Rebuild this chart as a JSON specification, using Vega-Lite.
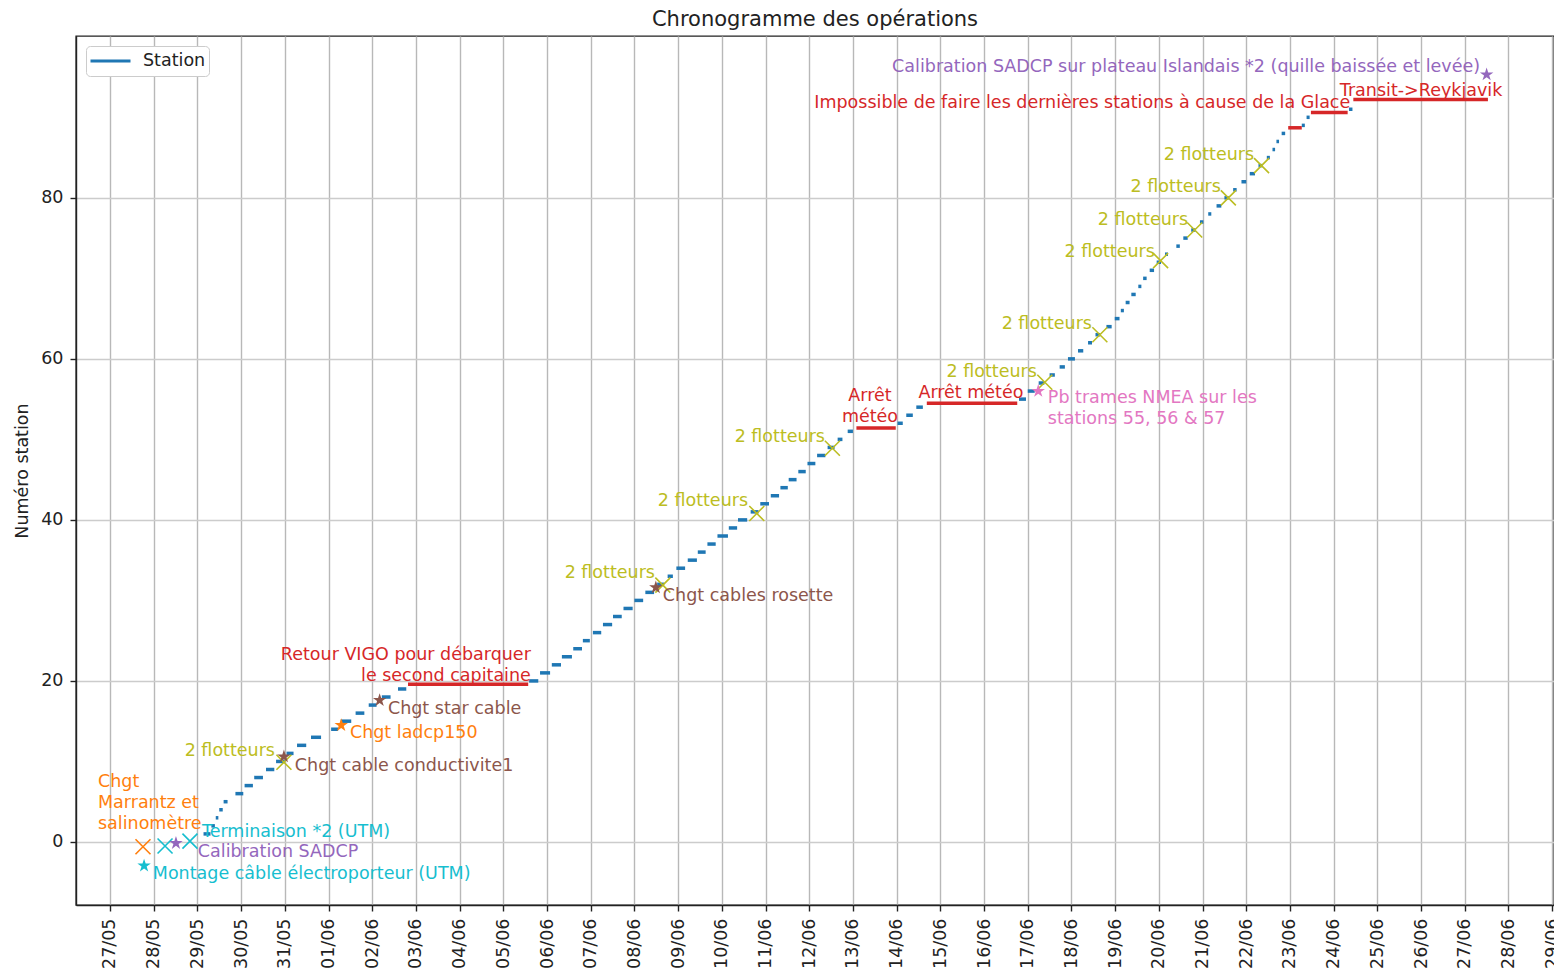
{
  "$schema": "https://vega.github.io/schema/vega-lite/v6.json",
  "width": 1478,
  "height": 869,
  "autosize": "none",
  "padding": {"left": 76, "top": 36, "right": 0, "bottom": 70},
  "config": {
    "font": "DejaVu Sans",
    "view": {"stroke": "#222222", "strokeWidth": 1.4},
    "legend": {
      "title": null,
      "orient": "top-left",
      "offset": 10,
      "padding": 3,
      "clipHeight": 24,
      "fillColor": "white",
      "strokeColor": "#cccccc",
      "cornerRadius": 4,
      "symbolType": "stroke",
      "symbolSize": 1600,
      "symbolStrokeWidth": 3,
      "labelFontSize": 17.5,
      "labelOffset": 11,
      "labelColor": "#222222"
    }
  },
  "title": {"text": "Chronogramme des opérations", "fontSize": 21, "fontWeight": "normal", "color": "#222222", "offset": 6},
  "datasets": {
    "stations": [
      {"date": "2018-05-29T03:22", "end": "2018-05-29T07:12", "station": 1},
      {"date": "2018-05-29T07:41", "end": "2018-05-29T09:36", "station": 2},
      {"date": "2018-05-29T10:05", "end": "2018-05-29T11:31", "station": 3},
      {"date": "2018-05-29T12:00", "end": "2018-05-29T13:55", "station": 4},
      {"date": "2018-05-29T14:24", "end": "2018-05-29T16:34", "station": 5},
      {"date": "2018-05-29T20:53", "end": "2018-05-30T01:12", "station": 6},
      {"date": "2018-05-30T01:55", "end": "2018-05-30T06:29", "station": 7},
      {"date": "2018-05-30T07:12", "end": "2018-05-30T12:00", "station": 8},
      {"date": "2018-05-30T13:41", "end": "2018-05-30T18:14", "station": 9},
      {"date": "2018-05-30T19:12", "end": "2018-05-31T00:00", "station": 10},
      {"date": "2018-05-31T00:58", "end": "2018-05-31T04:48", "station": 11},
      {"date": "2018-05-31T06:43", "end": "2018-05-31T11:46", "station": 12},
      {"date": "2018-05-31T14:24", "end": "2018-05-31T19:55", "station": 13},
      {"date": "2018-06-01T01:26", "end": "2018-06-01T05:17", "station": 14},
      {"date": "2018-06-01T06:43", "end": "2018-06-01T12:29", "station": 15},
      {"date": "2018-06-01T14:53", "end": "2018-06-01T19:41", "station": 16},
      {"date": "2018-06-01T22:05", "end": "2018-06-02T02:24", "station": 17},
      {"date": "2018-06-02T05:17", "end": "2018-06-02T10:05", "station": 18},
      {"date": "2018-06-02T14:10", "end": "2018-06-02T18:43", "station": 19},
      {"date": "2018-06-05T14:10", "end": "2018-06-05T19:12", "station": 20},
      {"date": "2018-06-05T20:10", "end": "2018-06-06T01:41", "station": 21},
      {"date": "2018-06-06T02:38", "end": "2018-06-06T07:41", "station": 22},
      {"date": "2018-06-06T08:10", "end": "2018-06-06T13:41", "station": 23},
      {"date": "2018-06-06T14:24", "end": "2018-06-06T19:12", "station": 24},
      {"date": "2018-06-06T19:41", "end": "2018-06-06T23:31", "station": 25},
      {"date": "2018-06-07T01:12", "end": "2018-06-07T05:46", "station": 26},
      {"date": "2018-06-07T06:43", "end": "2018-06-07T11:46", "station": 27},
      {"date": "2018-06-07T12:14", "end": "2018-06-07T17:02", "station": 28},
      {"date": "2018-06-07T18:00", "end": "2018-06-07T23:02", "station": 29},
      {"date": "2018-06-08T00:00", "end": "2018-06-08T04:48", "station": 30},
      {"date": "2018-06-08T06:00", "end": "2018-06-08T10:48", "station": 31},
      {"date": "2018-06-08T12:29", "end": "2018-06-08T16:19", "station": 32},
      {"date": "2018-06-08T18:14", "end": "2018-06-08T21:07", "station": 33},
      {"date": "2018-06-08T23:02", "end": "2018-06-09T03:50", "station": 34},
      {"date": "2018-06-09T05:17", "end": "2018-06-09T10:19", "station": 35},
      {"date": "2018-06-09T10:48", "end": "2018-06-09T15:07", "station": 36},
      {"date": "2018-06-09T16:05", "end": "2018-06-09T20:38", "station": 37},
      {"date": "2018-06-09T21:36", "end": "2018-06-10T03:22", "station": 38},
      {"date": "2018-06-10T03:50", "end": "2018-06-10T08:24", "station": 39},
      {"date": "2018-06-10T08:53", "end": "2018-06-10T13:55", "station": 40},
      {"date": "2018-06-10T15:50", "end": "2018-06-10T20:10", "station": 41},
      {"date": "2018-06-10T21:07", "end": "2018-06-11T01:55", "station": 42},
      {"date": "2018-06-11T02:53", "end": "2018-06-11T07:26", "station": 43},
      {"date": "2018-06-11T08:10", "end": "2018-06-11T12:14", "station": 44},
      {"date": "2018-06-11T12:43", "end": "2018-06-11T17:02", "station": 45},
      {"date": "2018-06-11T18:00", "end": "2018-06-11T22:05", "station": 46},
      {"date": "2018-06-11T23:02", "end": "2018-06-12T03:22", "station": 47},
      {"date": "2018-06-12T04:19", "end": "2018-06-12T08:53", "station": 48},
      {"date": "2018-06-12T10:05", "end": "2018-06-12T13:55", "station": 49},
      {"date": "2018-06-12T15:36", "end": "2018-06-12T18:14", "station": 50},
      {"date": "2018-06-12T21:07", "end": "2018-06-13T00:00", "station": 51},
      {"date": "2018-06-14T00:29", "end": "2018-06-14T03:22", "station": 52},
      {"date": "2018-06-14T05:17", "end": "2018-06-14T08:53", "station": 53},
      {"date": "2018-06-14T10:48", "end": "2018-06-14T14:24", "station": 54},
      {"date": "2018-06-16T19:12", "end": "2018-06-16T23:02", "station": 55},
      {"date": "2018-06-17T00:00", "end": "2018-06-17T03:50", "station": 56},
      {"date": "2018-06-17T06:00", "end": "2018-06-17T09:07", "station": 57},
      {"date": "2018-06-17T12:00", "end": "2018-06-17T14:53", "station": 58},
      {"date": "2018-06-17T17:31", "end": "2018-06-17T20:24", "station": 59},
      {"date": "2018-06-17T22:05", "end": "2018-06-18T01:55", "station": 60},
      {"date": "2018-06-18T03:36", "end": "2018-06-18T06:29", "station": 61},
      {"date": "2018-06-18T09:07", "end": "2018-06-18T11:17", "station": 62},
      {"date": "2018-06-18T13:12", "end": "2018-06-18T15:50", "station": 63},
      {"date": "2018-06-18T19:12", "end": "2018-06-18T22:05", "station": 64},
      {"date": "2018-06-18T23:46", "end": "2018-06-19T02:24", "station": 65},
      {"date": "2018-06-19T03:07", "end": "2018-06-19T04:48", "station": 66},
      {"date": "2018-06-19T05:46", "end": "2018-06-19T07:55", "station": 67},
      {"date": "2018-06-19T08:53", "end": "2018-06-19T11:17", "station": 68},
      {"date": "2018-06-19T12:43", "end": "2018-06-19T14:24", "station": 69},
      {"date": "2018-06-19T15:22", "end": "2018-06-19T17:17", "station": 70},
      {"date": "2018-06-19T18:58", "end": "2018-06-19T21:22", "station": 71},
      {"date": "2018-06-19T22:48", "end": "2018-06-20T01:12", "station": 72},
      {"date": "2018-06-20T03:22", "end": "2018-06-20T05:02", "station": 73},
      {"date": "2018-06-20T09:36", "end": "2018-06-20T11:31", "station": 74},
      {"date": "2018-06-20T13:26", "end": "2018-06-20T15:50", "station": 75},
      {"date": "2018-06-20T17:46", "end": "2018-06-20T20:10", "station": 76},
      {"date": "2018-06-20T22:34", "end": "2018-06-21T00:29", "station": 77},
      {"date": "2018-06-21T03:07", "end": "2018-06-21T04:48", "station": 78},
      {"date": "2018-06-21T07:41", "end": "2018-06-21T10:19", "station": 79},
      {"date": "2018-06-21T12:00", "end": "2018-06-21T14:24", "station": 80},
      {"date": "2018-06-21T16:48", "end": "2018-06-21T18:43", "station": 81},
      {"date": "2018-06-21T21:22", "end": "2018-06-22T00:00", "station": 82},
      {"date": "2018-06-22T01:55", "end": "2018-06-22T04:48", "station": 83},
      {"date": "2018-06-22T06:43", "end": "2018-06-22T08:53", "station": 84},
      {"date": "2018-06-22T11:17", "end": "2018-06-22T12:58", "station": 85},
      {"date": "2018-06-22T14:24", "end": "2018-06-22T15:50", "station": 86},
      {"date": "2018-06-22T16:34", "end": "2018-06-22T18:00", "station": 87},
      {"date": "2018-06-22T19:26", "end": "2018-06-22T21:22", "station": 88},
      {"date": "2018-06-23T06:29", "end": "2018-06-23T08:10", "station": 89},
      {"date": "2018-06-23T09:07", "end": "2018-06-23T10:48", "station": 90},
      {"date": "2018-06-24T08:24", "end": "2018-06-24T10:19", "station": 91}
    ],
    "interruptions": [
      {"date": "2018-06-02T19:40", "end": "2018-06-05T13:40", "station": 19.6, "event": "Retour VIGO"},
      {"date": "2018-06-13T01:55", "end": "2018-06-13T23:31", "station": 51.4, "event": "Arrêt météo 1"},
      {"date": "2018-06-14T16:34", "end": "2018-06-16T18:14", "station": 54.5, "event": "Arrêt météo 2"},
      {"date": "2018-06-22T23:02", "end": "2018-06-23T06:29", "station": 88.7, "event": "Glace 1"},
      {"date": "2018-06-23T11:31", "end": "2018-06-24T07:41", "station": 90.6, "event": "Glace 2"},
      {"date": "2018-06-24T10:48", "end": "2018-06-27T12:43", "station": 92.2, "event": "Transit"}
    ],
    "points_x": [
      {"date": "2018-05-27T18:07", "station": -0.6, "type": "instrument"},
      {"date": "2018-05-28T06:14", "station": -0.5, "type": "UTM"},
      {"date": "2018-05-28T19:55", "station": 0.1, "type": "UTM"},
      {"date": "2018-05-30T23:31", "station": 9.9, "type": "flotteurs"},
      {"date": "2018-06-08T15:36", "station": 31.9, "type": "flotteurs"},
      {"date": "2018-06-10T19:12", "station": 40.8, "type": "flotteurs"},
      {"date": "2018-06-12T12:43", "station": 48.9, "type": "flotteurs"},
      {"date": "2018-06-17T09:22", "station": 57.1, "type": "flotteurs"},
      {"date": "2018-06-18T15:36", "station": 63, "type": "flotteurs"},
      {"date": "2018-06-20T00:58", "station": 72.2, "type": "flotteurs"},
      {"date": "2018-06-20T19:41", "station": 76, "type": "flotteurs"},
      {"date": "2018-06-21T14:10", "station": 80, "type": "flotteurs"},
      {"date": "2018-06-22T08:24", "station": 84, "type": "flotteurs"}
    ],
    "points_star": [
      {"date": "2018-05-27T18:43", "station": -2.95, "type": "UTM"},
      {"date": "2018-05-28T12:14", "station": -0.15, "type": "SADCP"},
      {"date": "2018-05-30T23:31", "station": 10.6, "type": "câble"},
      {"date": "2018-06-01T06:58", "station": 14.5, "type": "instrument"},
      {"date": "2018-06-02T04:05", "station": 17.6, "type": "câble"},
      {"date": "2018-06-08T11:46", "station": 31.6, "type": "câble"},
      {"date": "2018-06-17T05:46", "station": 56, "type": "NMEA"},
      {"date": "2018-06-27T12:00", "station": 95.3, "type": "SADCP"}
    ],
    "labels_left": [
      {"date": "2018-05-26T17:24", "station": 7.45, "type": "instrument", "label": "Chgt\nMarrantz et\nsalinomètre"},
      {"date": "2018-05-29T02:31", "station": 1.24, "type": "UTM", "label": "Terminaison *2 (UTM)"},
      {"date": "2018-05-29T00:14", "station": -1.24, "type": "SADCP", "label": "Calibration SADCP"},
      {"date": "2018-05-27T23:31", "station": -3.98, "type": "UTM", "label": "Montage câble électroporteur (UTM)"},
      {"date": "2018-05-31T05:31", "station": 9.44, "type": "câble", "label": "Chgt cable conductivite1"},
      {"date": "2018-06-01T11:46", "station": 13.54, "type": "instrument", "label": "Chgt ladcp150"},
      {"date": "2018-06-02T08:38", "station": 16.52, "type": "câble", "label": "Chgt star cable"},
      {"date": "2018-06-08T15:36", "station": 30.56, "type": "câble", "label": "Chgt cables rosette"},
      {"date": "2018-06-17T11:02", "station": 55.16, "type": "NMEA", "label": "Pb trames NMEA sur les\nstations 55, 56 & 57"}
    ],
    "labels_right": [
      {"date": "2018-06-05T15:07", "station": 23.23, "type": "arrêt", "label": "Retour VIGO pour débarquer\nle second capitaine"},
      {"date": "2018-05-30T18:37", "station": 11.3, "type": "flotteurs", "label": "2 flotteurs"},
      {"date": "2018-06-08T11:17", "station": 33.42, "type": "flotteurs", "label": "2 flotteurs"},
      {"date": "2018-06-10T14:24", "station": 42.36, "type": "flotteurs", "label": "2 flotteurs"},
      {"date": "2018-06-12T08:38", "station": 50.31, "type": "flotteurs", "label": "2 flotteurs"},
      {"date": "2018-06-17T05:02", "station": 58.39, "type": "flotteurs", "label": "2 flotteurs"},
      {"date": "2018-06-18T11:17", "station": 64.35, "type": "flotteurs", "label": "2 flotteurs"},
      {"date": "2018-06-19T21:50", "station": 73.29, "type": "flotteurs", "label": "2 flotteurs"},
      {"date": "2018-06-20T16:05", "station": 77.27, "type": "flotteurs", "label": "2 flotteurs"},
      {"date": "2018-06-21T10:05", "station": 81.37, "type": "flotteurs", "label": "2 flotteurs"},
      {"date": "2018-06-22T04:19", "station": 85.34, "type": "flotteurs", "label": "2 flotteurs"},
      {"date": "2018-06-24T09:07", "station": 91.8, "type": "arrêt", "label": "Impossible de faire les dernières stations à cause de la Glace"},
      {"date": "2018-06-27T08:24", "station": 96.27, "type": "SADCP", "label": "Calibration SADCP sur plateau Islandais *2 (quille baissée et levée)"}
    ],
    "labels_center": [
      {"date": "2018-06-13T09:22", "station": 55.4, "type": "arrêt", "label": "Arrêt\nmétéo"},
      {"date": "2018-06-15T16:48", "station": 55.78, "type": "arrêt", "label": "Arrêt météo"},
      {"date": "2018-06-26T00:00", "station": 93.29, "type": "arrêt", "label": "Transit->Reykjavik"}
    ]
  },
  "encoding": {
    "x": {
      "field": "date",
      "type": "temporal",
      "scale": {
        "domain": [
          {"year": 2018, "month": 5, "date": 26, "hours": 5, "minutes": 20},
          {"year": 2018, "month": 6, "date": 29, "hours": 1, "minutes": 0}
        ],
        "nice": false
      },
      "axis": {
        "title": null,
        "format": "%d/%m",
        "tickCount": {"interval": "day", "step": 1},
        "labelAngle": -90,
        "labelFontSize": 17.5,
        "labelColor": "#222222",
        "labelPadding": 7,
        "labelOverlap": false,
        "labelFlush": false,
        "tickSize": 6,
        "tickColor": "#222222",
        "tickWidth": 1.4,
        "domainColor": "#222222",
        "domainWidth": 1.4,
        "grid": true,
        "gridColor": "#b8b8b8",
        "gridWidth": 1.4
      }
    },
    "y": {
      "field": "station",
      "type": "quantitative",
      "scale": {"domain": [-7.83, 100.1], "nice": false, "zero": false},
      "axis": {
        "title": "Numéro station",
        "titleFontSize": 17.5,
        "titleFontWeight": "normal",
        "titleColor": "#222222",
        "titlePadding": 9,
        "values": [0, 20, 40, 60, 80],
        "labelFontSize": 17.5,
        "labelColor": "#222222",
        "labelPadding": 7,
        "tickSize": 6,
        "tickColor": "#222222",
        "tickWidth": 1.4,
        "domainColor": "#222222",
        "domainWidth": 1.4,
        "grid": true,
        "gridColor": "#cccccc",
        "gridWidth": 1.4
      }
    }
  },
  "layer": [
    {
      "data": {"name": "stations"},
      "mark": {"type": "rule", "strokeWidth": 3.5},
      "encoding": {
        "x2": {"field": "end"},
        "color": {"datum": "Station", "type": "nominal", "scale": {"domain": ["Station"], "range": ["#1f77b4"]}}
      }
    },
    {
      "data": {"name": "interruptions"},
      "mark": {"type": "rule", "strokeWidth": 3.5, "color": "#d62728"},
      "encoding": {"x2": {"field": "end"}}
    },
    {
      "data": {"name": "points_x"},
      "mark": {"type": "point", "shape": "M-1,-1L1,1M-1,1L1,-1", "size": 225, "strokeWidth": 1.6, "filled": false, "opacity": 1},
      "encoding": {
        "color": {"field": "type", "type": "nominal", "legend": null,
          "scale": {"domain": ["instrument", "UTM", "SADCP", "câble", "flotteurs", "arrêt", "NMEA"], "range": ["#ff7f0e", "#17becf", "#9467bd", "#8c564b", "#bcbd22", "#d62728", "#e377c2"]}}
      }
    },
    {
      "data": {"name": "points_star"},
      "mark": {"type": "point", "shape": "M0,-1L0.223,-0.307L0.951,-0.309L0.361,0.117L0.588,0.809L0,0.38L-0.588,0.809L-0.361,0.117L-0.951,-0.309L-0.223,-0.307Z", "size": 200, "filled": true, "opacity": 1},
      "encoding": {
        "color": {"field": "type", "type": "nominal", "legend": null,
          "scale": {"domain": ["instrument", "UTM", "SADCP", "câble", "flotteurs", "arrêt", "NMEA"], "range": ["#ff7f0e", "#17becf", "#9467bd", "#8c564b", "#bcbd22", "#d62728", "#e377c2"]}}
      }
    },
    {
      "data": {"name": "labels_left"},
      "mark": {"type": "text", "align": "left", "baseline": "middle", "fontSize": 17.5, "lineBreak": "\n", "lineHeight": 21},
      "encoding": {
        "text": {"field": "label"},
        "color": {"field": "type", "type": "nominal", "legend": null,
          "scale": {"domain": ["instrument", "UTM", "SADCP", "câble", "flotteurs", "arrêt", "NMEA"], "range": ["#ff7f0e", "#17becf", "#9467bd", "#8c564b", "#bcbd22", "#d62728", "#e377c2"]}}
      }
    },
    {
      "data": {"name": "labels_right"},
      "mark": {"type": "text", "align": "right", "baseline": "middle", "fontSize": 17.5, "lineBreak": "\n", "lineHeight": 21},
      "encoding": {
        "text": {"field": "label"},
        "color": {"field": "type", "type": "nominal", "legend": null,
          "scale": {"domain": ["instrument", "UTM", "SADCP", "câble", "flotteurs", "arrêt", "NMEA"], "range": ["#ff7f0e", "#17becf", "#9467bd", "#8c564b", "#bcbd22", "#d62728", "#e377c2"]}}
      }
    },
    {
      "data": {"name": "labels_center"},
      "mark": {"type": "text", "align": "center", "baseline": "middle", "fontSize": 17.5, "lineBreak": "\n", "lineHeight": 21},
      "encoding": {
        "text": {"field": "label"},
        "color": {"field": "type", "type": "nominal", "legend": null,
          "scale": {"domain": ["instrument", "UTM", "SADCP", "câble", "flotteurs", "arrêt", "NMEA"], "range": ["#ff7f0e", "#17becf", "#9467bd", "#8c564b", "#bcbd22", "#d62728", "#e377c2"]}}
      }
    }
  ],
  "resolve": {"scale": {"color": "independent"}}
}
